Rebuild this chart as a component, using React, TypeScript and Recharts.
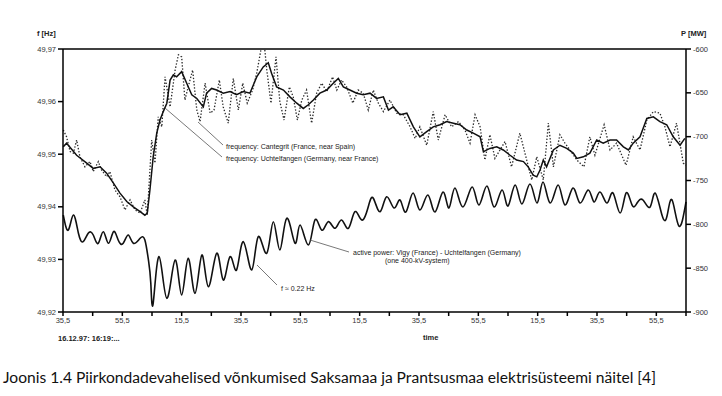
import React from "react";
import { LineChart, Line, XAxis, YAxis, ReferenceLine } from "recharts";

// time axis: seconds after 16:19:35,5
const xTicks = [0, 10, 20, 30, 40, 50, 60, 70, 80, 90, 100, 110, 120, 130, 140, 150, 160, 170, 180, 190, 200, 210];
const xTickLabels = ["35,5", "", "55,5", "", "15,5", "", "35,5", "", "55,5", "", "15,5", "", "35,5", "", "55,5", "", "15,5", "", "35,5", "", "55,5", ""];

const fTicks = [49.92, 49.93, 49.94, 49.95, 49.96, 49.97];
const fTickLabels = ["49,92", "49,93", "49,94", "49,95", "49,96", "49,97"];
const pTicks = [-900, -850, -800, -750, -700, -650, -600];
const pTickLabels = ["-900", "-850", "-800", "-750", "-700", "-650", "-600"];

// frequency Uchtelfangen (solid)
const uchT = [0.1, 1.2, 4.6, 8.0, 10.2, 12.5, 14.7, 17.0, 19.2, 21.5, 23.7, 26.0, 27.6, 28.4, 29.3, 30.4, 31.6, 32.7, 33.8, 35.0, 36.1, 37.2, 38.3, 40.0, 41.7, 43.4, 45.1, 47.3, 48.4, 50.1, 51.8, 54.0, 56.3, 58.5, 60.8, 63.0, 65.3, 67.5, 69.2, 70.3, 72.0, 74.3, 76.5, 78.8, 81.0, 82.7, 84.4, 86.6, 88.9, 91.1, 92.8, 94.5, 96.7, 99.0, 101.2, 103.5, 105.7, 108.0, 109.7, 111.3, 113.6, 115.9, 118.1, 120.3, 122.6, 124.8, 127.1, 129.3, 131.6, 133.8, 136.1, 138.3, 140.6, 141.7, 143.9, 146.2, 148.4, 150.7, 152.9, 155.2, 156.8, 158.5, 159.7, 160.8, 161.9, 163.0, 165.3, 167.5, 169.8, 172.0, 173.2, 175.4, 177.6, 179.9, 182.1, 184.4, 186.6, 188.9, 190.6, 192.2, 194.5, 196.8, 199.0, 201.2, 203.5, 205.7, 208.0, 209.6];
const uchF = [49.9514, 49.9521, 49.9498, 49.9483, 49.9473, 49.9476, 49.9464, 49.9445, 49.9426, 49.941, 49.94, 49.9391, 49.9384, 49.9388, 49.9432, 49.9495, 49.954, 49.9565, 49.9581, 49.9597, 49.9641, 49.9651, 49.9647, 49.9657, 49.9635, 49.9613, 49.9606, 49.959, 49.9616, 49.9625, 49.9622, 49.9616, 49.9619, 49.9613, 49.9619, 49.9616, 49.9647, 49.9666, 49.9674, 49.9654, 49.9628, 49.9622, 49.9609, 49.9597, 49.9587, 49.9594, 49.9603, 49.9616, 49.9622, 49.9635, 49.9644, 49.9628, 49.9622, 49.9616, 49.9613, 49.9616, 49.9606, 49.9609, 49.9584, 49.959, 49.9575, 49.9578, 49.9552, 49.9533, 49.9543, 49.9552, 49.9556, 49.9562, 49.9559, 49.9556, 49.9546, 49.954, 49.9533, 49.9505, 49.9511, 49.9514, 49.9508, 49.9498, 49.9489, 49.9486, 49.9476, 49.946, 49.9457, 49.947, 49.9489, 49.9476, 49.9508, 49.9517, 49.9511, 49.9502, 49.9492, 49.9495, 49.9502, 49.9527, 49.9521, 49.9527, 49.9527, 49.9514, 49.9508, 49.9521, 49.9533, 49.9568, 49.9571, 49.9562, 49.9556, 49.9533, 49.9517, 49.953];

// frequency Cantegrit (dotted)
const canT = [0.1, 1.2, 2.4, 3.5, 4.6, 5.7, 7.4, 9.1, 10.2, 11.9, 13.0, 14.7, 15.8, 17.5, 19.2, 20.9, 22.6, 24.3, 26.0, 27.6, 28.4, 29.9, 31.0, 32.1, 33.3, 34.4, 36.1, 37.8, 38.9, 40.0, 41.1, 42.2, 43.7, 45.1, 46.2, 47.9, 49.6, 50.9, 52.7, 54.0, 55.7, 57.4, 59.1, 60.6, 62.1, 63.9, 65.3, 66.7, 67.8, 68.7, 70.1, 71.8, 73.1, 74.5, 76.3, 77.6, 79.0, 80.5, 82.1, 83.8, 85.5, 87.2, 88.9, 90.9, 92.3, 93.9, 95.6, 97.7, 99.5, 101.2, 102.9, 104.6, 106.3, 108.0, 110.2, 112.5, 114.7, 117.0, 118.7, 120.3, 122.6, 124.8, 126.5, 128.8, 131.0, 133.3, 135.5, 137.2, 138.9, 140.6, 142.2, 143.9, 145.6, 147.3, 149.0, 151.2, 154.0, 156.3, 158.0, 159.7, 161.9, 163.6, 165.3, 167.5, 169.2, 170.9, 173.2, 175.6, 177.6, 179.3, 182.4, 184.4, 186.6, 189.8, 192.2, 194.5, 196.8, 199.0, 201.2, 202.9, 204.6, 206.8, 209.1, 210.0];
const canF = [49.9546, 49.9533, 49.9505, 49.9502, 49.9527, 49.9495, 49.9476, 49.9486, 49.9467, 49.9486, 49.947, 49.9457, 49.9467, 49.9432, 49.9419, 49.9394, 49.9413, 49.9394, 49.9388, 49.9413, 49.9384, 49.9527, 49.9483, 49.9571, 49.9552, 49.9647, 49.959, 49.966, 49.9689, 49.9685, 49.9603, 49.9628, 49.966, 49.9584, 49.9562, 49.9635, 49.9578, 49.9584, 49.9641, 49.959, 49.9559, 49.9644, 49.9584, 49.9635, 49.9597, 49.9622, 49.9654, 49.9698, 49.9711, 49.966, 49.9597, 49.9685, 49.96, 49.9565, 49.9628, 49.9609, 49.9565, 49.9603, 49.9622, 49.9559, 49.9616, 49.9635, 49.9619, 49.9647, 49.9622, 49.9641, 49.9628, 49.9597, 49.9622, 49.9616, 49.9584, 49.9622, 49.9597, 49.9581, 49.9603, 49.9578, 49.9575, 49.9552, 49.953, 49.9552, 49.9517, 49.9581, 49.9527, 49.9575, 49.9552, 49.9562, 49.9546, 49.9521, 49.9575, 49.9552, 49.9489, 49.9537, 49.9492, 49.9508, 49.9524, 49.9476, 49.954, 49.9489, 49.9451, 49.9495, 49.9451, 49.9559, 49.9476, 49.9537, 49.9521, 49.9508, 49.9489, 49.9476, 49.9533, 49.9498, 49.9556, 49.9508, 49.9521, 49.9479, 49.9533, 49.9508, 49.9565, 49.9581, 49.9578, 49.9552, 49.9514, 49.9559, 49.9483, 49.9479];

// active power Vigy - Uchtelfangen, MW
const powT = [0.1, 1.8, 3.5, 5.2, 6.8, 8.5, 10.2, 11.9, 13.6, 15.3, 17.0, 18.6, 20.3, 22.0, 23.7, 26.0, 27.6, 28.8, 29.6, 30.4, 32.4, 35.0, 37.8, 40.0, 42.2, 44.5, 46.8, 49.0, 51.8, 54.0, 56.3, 58.5, 60.8, 63.6, 65.8, 68.7, 70.9, 73.1, 75.4, 78.2, 79.9, 82.7, 84.9, 87.2, 89.4, 91.7, 93.9, 96.2, 98.4, 100.7, 102.9, 104.6, 106.9, 109.1, 111.6, 113.6, 115.6, 118.0, 120.3, 123.0, 125.4, 128.1, 130.1, 132.1, 134.8, 137.9, 140.2, 142.9, 145.3, 148.0, 150.0, 152.4, 154.7, 157.4, 159.8, 161.8, 164.2, 166.9, 169.2, 171.9, 174.3, 177.0, 179.0, 181.0, 183.4, 185.4, 187.8, 189.8, 191.8, 193.5, 195.5, 197.9, 199.6, 201.9, 203.6, 205.3, 207.6, 210.0];
const powP = [-789.4, -806.5, -789.4, -810.2, -819.8, -810.2, -812.2, -821.6, -808.4, -821.6, -808.4, -817.9, -821.6, -812.2, -821.6, -815.9, -817.9, -840.7, -867.3, -890.1, -836.9, -884.4, -840.7, -880.6, -838.8, -878.7, -835.0, -871.1, -833.0, -863.5, -836.9, -852.1, -819.8, -852.1, -814.1, -833.0, -797.0, -829.3, -793.1, -821.6, -800.8, -823.6, -795.1, -806.5, -797.0, -804.5, -795.1, -804.5, -785.6, -795.1, -779.9, -770.3, -785.6, -768.5, -781.4, -772.2, -785.9, -764.3, -783.7, -766.5, -785.9, -763.1, -781.4, -758.6, -780.2, -757.4, -777.9, -756.3, -780.2, -760.8, -779.1, -755.1, -776.8, -754.0, -775.7, -751.7, -775.7, -755.1, -777.9, -758.6, -775.7, -760.8, -774.5, -763.1, -775.7, -764.3, -787.1, -764.3, -777.9, -775.7, -772.2, -780.2, -764.3, -789.4, -790.5, -772.2, -801.9, -774.5];

const uchData = uchT.map((t, i) => ({ t, v: uchF[i] }));
const canData = canT.map((t, i) => ({ t, v: canF[i] }));
const powData = powT.map((t, i) => ({ t, v: powP[i] }));

const tickStyle = { fontSize: 7.5, fill: "#333", fontFamily: "'Liberation Sans', Arial, sans-serif" };

export default function App() {
  return (
    <div style={{ position: "absolute", left: 0, top: 0, width: 722, height: 396, background: "#fff", fontFamily: "'Liberation Sans', Arial, sans-serif" }}>
      <LineChart width={722} height={345} margin={{ top: 49, right: 0, bottom: 13, left: 13 }}>
        <XAxis
          dataKey="t"
          type="number"
          domain={[0, 210]}
          ticks={xTicks}
          interval={0}
          tickFormatter={(v) => xTickLabels[xTicks.indexOf(v)]}
          tick={tickStyle}
          stroke="#000"
          strokeWidth={1.5}
          tickSize={4}
          height={20}
          allowDuplicatedCategory={false}
        />
        <YAxis
          yAxisId="f"
          type="number"
          domain={[49.92, 49.97]}
          allowDataOverflow
          ticks={fTicks}
          interval={0}
          tickFormatter={(v) => fTickLabels[fTicks.indexOf(v)]}
          tick={tickStyle}
          stroke="#000"
          strokeWidth={1.5}
          tickSize={5}
          width={50}
        />
        <YAxis
          yAxisId="p"
          orientation="right"
          type="number"
          domain={[-900, -600]}
          allowDataOverflow
          ticks={pTicks}
          interval={0}
          tickFormatter={(v) => pTickLabels[pTicks.indexOf(v)]}
          tick={tickStyle}
          stroke="#000"
          strokeWidth={1.5}
          tickSize={5}
          width={36}
        />
        <ReferenceLine yAxisId="f" y={49.97} stroke="#000" strokeWidth={1.5} />
        <Line yAxisId="f" data={canData} dataKey="v" type="linear" stroke="#2a2a2a" strokeWidth={1.3} strokeDasharray="1.4 1.8" dot={false} isAnimationActive={false} />
        <Line yAxisId="f" data={uchData} dataKey="v" type="linear" stroke="#111" strokeWidth={1.5} dot={false} isAnimationActive={false} />
        <Line yAxisId="p" data={powData} dataKey="v" type="natural" stroke="#111" strokeWidth={1.6} dot={false} isAnimationActive={false} />
      </LineChart>

      <svg width={722} height={396} style={{ position: "absolute", left: 0, top: 0, pointerEvents: "none" }}>
        <g fontFamily="'Liberation Sans', Arial, sans-serif">
          <text x={37} y={36} fontSize={7.5} fontWeight="bold" fill="#222">f [Hz]</text>
          <text x={681} y={36} fontSize={7.5} fontWeight="bold" fill="#222">P [MW]</text>

          <line x1={198} y1={122} x2={223} y2={145} stroke="#555" strokeWidth={0.8} />
          <text x={226} y={149} fontSize={7} fill="#222">frequency: Cantegrit (France, near Spain)</text>
          <line x1={165} y1={108} x2={222} y2={157} stroke="#555" strokeWidth={0.8} />
          <text x={226} y={161} fontSize={7} fill="#222">frequency: Uchtelfangen (Germany, near France)</text>

          <line x1={310} y1={240} x2={349} y2={252} stroke="#555" strokeWidth={0.8} />
          <text x={353} y={255} fontSize={7} fill="#222">active power: Vigy (France) - Uchtelfangen (Germany)</text>
          <text x={385} y={263} fontSize={7} fill="#222">(one 400-kV-system)</text>

          <line x1={257} y1={265} x2={277} y2={285} stroke="#555" strokeWidth={0.8} />
          <text x={281} y={291} fontSize={7} fill="#222">f ≈ 0.22 Hz</text>

          <text x={58} y={341} fontSize={7.5} fontWeight="bold" fill="#222">16.12.97: 16:19:...</text>
          <text x={423} y={340} fontSize={7.5} fontWeight="bold" fill="#222">time</text>
        </g>
      </svg>

      <div style={{ position: "absolute", left: 3, top: 368, fontFamily: "Lato, 'Open Sans', sans-serif", fontSize: 15.6, color: "#111", whiteSpace: "nowrap" }}>
        Joonis 1.4 Piirkondadevahelised võnkumised Saksamaa ja Prantsusmaa elektrisüsteemi näitel [4]
      </div>
    </div>
  );
}
